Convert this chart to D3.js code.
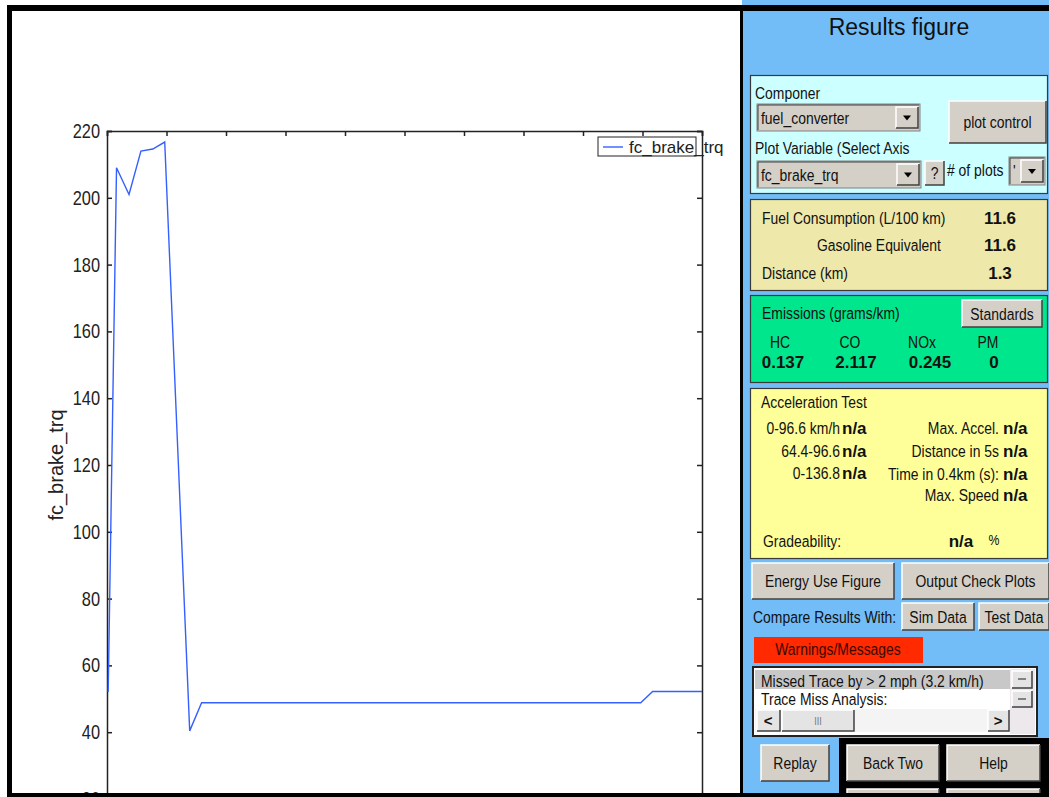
<!DOCTYPE html>
<head>
<meta charset="utf-8">
<script src="https://d3js.org/d3.v7.min.js"></script>
<style>
  body { margin:0; background:#fff; }
  svg { display:block; }
</style>
</head>
<body>
<script>
  var width = 1049, height = 797;
  var SANS = '"Liberation Sans", Arial, sans-serif';
  var NARROW_K = 0.82;  // horizontal squeeze for the narrow GUI font

  // fc_brake_trq trace (time, torque)
  var timeVals = [0.2, 1.6, 3.7, 5.7, 7.7, 9.7, 13.9, 15.9, 89.7, 91.7, 100];
  var trqVals  = [52, 209, 201, 214, 214.6, 216.7, 40.4, 48.8, 48.8, 52.2, 52.2];
  var seriesName = "fc_brake_trq";
  var yTicks = [20, 40, 60, 80, 100, 120, 140, 160, 180, 200, 220];
  var xTicks = [0, 10, 20, 30, 40, 50, 60, 70, 80, 90, 100];

  // panel values
  var fuelRows = [["Fuel Consumption (L/100 km)", "11.6"], ["Gasoline Equivalent", "11.6"], ["Distance (km)", "1.3"]];
  var emisNames = ["HC", "CO", "NOx", "PM"];
  var emisVals = ["0.137", "2.117", "0.245", "0"];
  var accelLeft = ["0-96.6 km/h", "64.4-96.6", "0-136.8"];
  var accelRight = ["Max. Accel.", "Distance in 5s", "Time in 0.4km (s):", "Max. Speed"];
  var messages = ["Missed Trace by > 2 mph (3.2 km/h)", "Trace Miss Analysis:"];

  var dataVals = timeVals.map(function(t, i){ return {x: t, y: trqVals[i]}; });

  var svg = d3.select("body").append("svg")
    .attr("width", width).attr("height", height);
  svg.append("rect").attr("width", width).attr("height", height).attr("fill", "#fff");

  // ---- plot ----
  var xScale = d3.scaleLinear().domain([0, 100]).range([107, 702]);
  var yScale = d3.scaleLinear().domain([20, 220]).range([799, 131]);

  function styleAxis(g){
    g.attr("font-family", SANS).attr("font-size", 20);
    g.selectAll("path, line").attr("stroke", "#222").attr("stroke-width", 1.5);
    g.selectAll("text").attr("fill", "#222");
  }
  var yAxisG = svg.append("g").attr("transform", "translate(107,0)")
    .call(d3.axisLeft(yScale).tickValues(yTicks).tickSize(-5).tickPadding(7))
    .call(styleAxis);
  yAxisG.selectAll(".tick text")
    .attr("x", -7 / NARROW_K)
    .attr("transform", "scale(" + NARROW_K + ",1)");
  svg.append("g").attr("transform", "translate(702,0)")
    .call(d3.axisRight(yScale).tickValues(yTicks).tickSize(-5).tickFormat(""))
    .call(styleAxis);
  svg.append("g").attr("transform", "translate(0,131)")
    .call(d3.axisTop(xScale).tickValues(xTicks).tickSize(-5).tickFormat(""))
    .call(styleAxis);
  svg.append("g").attr("transform", "translate(0,799)")
    .call(d3.axisBottom(xScale).tickValues(xTicks).tickSize(-5).tickFormat(""))
    .call(styleAxis);

  var lineData = d3.line()
    .x(function(d){ return xScale(d.x); })
    .y(function(d){ return yScale(d.y); });
  svg.append("path")
    .attr("d", lineData(dataVals))
    .attr("fill", "none")
    .attr("stroke", "#3560ff")
    .attr("stroke-width", 1.4);

  svg.append("text")
    .attr("transform", "translate(63,465) rotate(-90)")
    .attr("text-anchor", "middle")
    .attr("font-family", SANS).attr("font-size", 20).attr("fill", "#222")
    .text(seriesName);

  // legend
  var leg = svg.append("g");
  leg.append("rect").attr("x", 598).attr("y", 137).attr("width", 98).attr("height", 19)
    .attr("fill", "#fff").attr("stroke", "#222");
  leg.append("line").attr("x1", 603).attr("x2", 623).attr("y1", 147).attr("y2", 147)
    .attr("stroke", "#3560ff").attr("stroke-width", 1.4);
  leg.append("text").attr("x", 629).attr("y", 153)
    .attr("font-family", SANS).attr("font-size", 17).attr("fill", "#222")
    .text(seriesName);

  // ---- right panel ----
  var panel = svg.append("g");
  panel.append("rect").attr("x", 742).attr("y", 0).attr("width", 307).attr("height", height)
    .attr("fill", "#72bdf8");

  function label(x, y, str, o){
    o = o || {};
    var k = o.bold || o.wide ? 1 : NARROW_K;
    return panel.append("text")
      .attr("transform", "translate(" + x + "," + y + ") scale(" + k + ",1)")
      .attr("dy", "0.36em")
      .attr("text-anchor", o.anchor || "start")
      .attr("font-family", SANS)
      .attr("font-weight", o.bold ? "bold" : "normal")
      .attr("font-size", o.size || 17)
      .attr("fill", o.fill || "#111")
      .text(str);
  }
  function box(x, y, w, h, fill){
    panel.append("rect").attr("x", x + 0.5).attr("y", y + 0.5).attr("width", w).attr("height", h)
      .attr("fill", fill).attr("stroke", "#3a3a3a").attr("stroke-width", 1.2);
  }
  function bevel(x, y, w, h, fill){
    panel.append("rect").attr("x", x).attr("y", y).attr("width", w).attr("height", h).attr("fill", fill || "#d4d0c8");
    panel.append("path").attr("d", "M" + x + "," + (y + h) + "V" + y + "H" + (x + w))
      .attr("fill", "none").attr("stroke", "#fff").attr("stroke-width", 1.5);
    panel.append("path").attr("d", "M" + x + "," + (y + h) + "H" + (x + w) + "V" + y)
      .attr("fill", "none").attr("stroke", "#404040").attr("stroke-width", 1.5);
  }
  function button(x, y, w, h, str, size){
    bevel(x, y, w, h);
    label(x + w / 2, y + h / 2, str, {anchor: "middle", size: size || 17});
  }
  function arrowBtn(x, y, w, h){
    bevel(x, y, w, h);
    var cx = x + w / 2, cy = y + h / 2;
    panel.append("path").attr("d", "M" + (cx - 4) + "," + (cy - 2) + "H" + (cx + 4) + "L" + cx + "," + (cy + 3) + "Z")
      .attr("fill", "#000");
  }
  function dropdown(x, y, w, h, str){
    panel.append("rect").attr("x", x).attr("y", y).attr("width", w).attr("height", h)
      .attr("fill", "#d4d0c8").attr("stroke", "#808080");
    panel.append("path").attr("d", "M" + (x + 1) + "," + (y + h - 1) + "V" + (y + 1) + "H" + (x + w - 1))
      .attr("fill", "none").attr("stroke", "#404040");
    label(x + 4, y + h / 2, str);
    arrowBtn(x + w - 24, y + 3, 22, h - 6);
  }

  label(899, 27, "Results figure", {anchor: "middle", size: 23, wide: true});

  // component selector
  box(750, 75, 297, 118, "#ccffff");
  label(755, 93, "Componer");
  dropdown(757, 104, 163, 27, "fuel_converter");
  button(949, 101, 97, 42, "plot control");
  label(755, 148, "Plot Variable (Select Axis");
  dropdown(757, 161, 164, 27, "fc_brake_trq");
  button(925, 161, 19, 24, "?");
  label(947, 170, "# of plots");
  dropdown(1009, 157, 36, 28, "'");

  // fuel consumption
  box(750, 199, 297, 91, "#eee8aa");
  label(762, 218, fuelRows[0][0]);
  label(817, 245, fuelRows[1][0]);
  label(762, 273, fuelRows[2][0]);
  fuelRows.forEach(function(r, i){
    label(1000, [218, 245, 273][i], r[1], {anchor: "middle", bold: true, size: 17});
  });

  // emissions
  box(750, 295, 297, 87, "#00e68c");
  label(762, 313, "Emissions (grams/km)");
  button(962, 300, 80, 27, "Standards");
  var emisX = [780, 850, 922, 988];
  emisNames.forEach(function(n, i){ label(emisX[i], 342, n, {anchor: "middle"}); });
  var emisVX = [783, 856, 930, 994];
  emisVals.forEach(function(v, i){ label(emisVX[i], 362, v, {anchor: "middle", bold: true}); });

  // acceleration test
  box(750, 388, 297, 170, "#ffff99");
  label(761, 402, "Acceleration Test");
  accelLeft.forEach(function(s, i){
    var y = [428, 451, 473][i];
    label(840, y, s, {anchor: "end"});
    label(842, y, "n/a", {bold: true});
  });
  accelRight.forEach(function(s, i){
    var y = [428, 451, 474, 495][i];
    label(999, y, s, {anchor: "end"});
    label(1003, y, "n/a", {bold: true});
  });
  label(763, 541, "Gradeability:");
  label(961, 541, "n/a", {anchor: "middle", bold: true});
  label(994, 540, "%", {anchor: "middle", size: 15});

  // buttons
  button(752, 563, 142, 36, "Energy Use Figure");
  button(902, 563, 147, 36, "Output Check Plots");
  label(753, 617, "Compare Results With:");
  button(902, 603, 72, 27, "Sim Data");
  button(979, 603, 70, 27, "Test Data");

  panel.append("rect").attr("x", 754).attr("y", 637).attr("width", 169).attr("height", 26).attr("fill", "#ff2a00");
  label(838, 649, "Warnings/Messages", {anchor: "middle", fill: "#3a0800"});

  // message list
  panel.append("rect").attr("x", 753).attr("y", 667).attr("width", 284).attr("height", 69)
    .attr("fill", "#fff").attr("stroke", "#222").attr("stroke-width", 2);
  panel.append("rect").attr("x", 1010).attr("y", 669).attr("width", 25).attr("height", 65).attr("fill", "#ece8ec");
  panel.append("rect").attr("x", 755).attr("y", 670).attr("width", 255).attr("height", 19).attr("fill", "#c8c8c8");
  label(761, 681, messages[0]);
  label(761, 699, messages[1]);
  bevel(1012, 671, 20, 17, "#e4e4e4");
  panel.append("line").attr("x1", 1018).attr("x2", 1026).attr("y1", 679).attr("y2", 679).attr("stroke", "#222");
  bevel(1012, 691, 20, 16, "#e4e4e4");
  panel.append("line").attr("x1", 1018).attr("x2", 1026).attr("y1", 699).attr("y2", 699).attr("stroke", "#222");
  panel.append("rect").attr("x", 755).attr("y", 709).attr("width", 255).attr("height", 23).attr("fill", "#f4f4f4");
  bevel(757, 710, 23, 21, "#e4e4e4");
  label(768, 721, "<", {anchor: "middle", bold: true, size: 15});
  bevel(782, 710, 72, 21, "#e4e4e4");
  label(818, 721, "III", {anchor: "middle", size: 11, fill: "#777"});
  bevel(988, 710, 21, 21, "#e4e4e4");
  label(998, 721, ">", {anchor: "middle", bold: true, size: 15});

  // bottom buttons
  button(761, 745, 68, 36, "Replay");
  panel.append("rect").attr("x", 839).attr("y", 738).attr("width", 210).attr("height", 59).attr("fill", "#000");
  button(847, 745, 92, 36, "Back Two");
  button(947, 745, 93, 36, "Help");
  bevel(847, 789, 92, 20);
  bevel(947, 789, 93, 20);

  // ---- window frame ----
  var frame = svg.append("g").attr("fill", "#000");
  frame.append("rect").attr("x", 7).attr("y", 5).attr("width", width - 7).attr("height", 6);
  frame.append("rect").attr("x", 7).attr("y", 5).attr("width", 5).attr("height", height - 5);
  frame.append("rect").attr("x", 740).attr("y", 5).attr("width", 3).attr("height", height - 5);
  frame.append("rect").attr("x", 7).attr("y", 793).attr("width", width - 7).attr("height", 4);
</script>
</body>
